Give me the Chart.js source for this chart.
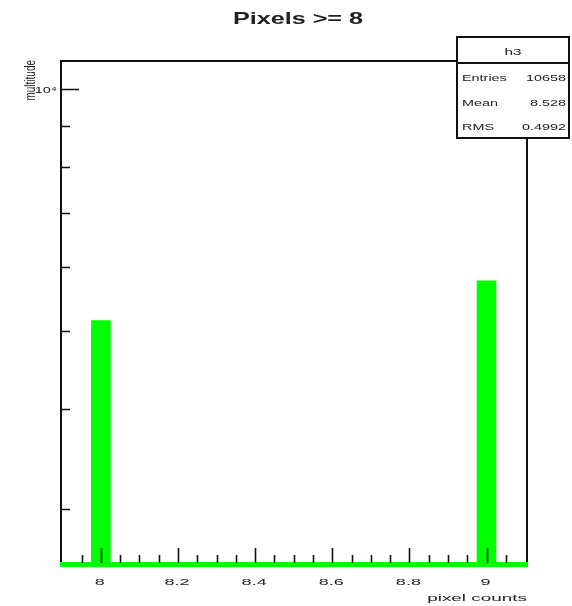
<!DOCTYPE html>
<html><head><meta charset="utf-8">
<script src="https://cdn.jsdelivr.net/npm/chart.js@4/dist/chart.umd.min.js"></script>
<style>html,body{margin:0;padding:0;background:#fff;overflow:hidden}canvas{display:block}</style>
</head><body>
<canvas id="c" width="572" height="606"></canvas>
<script>
// ---- data ----
const binCenters = [8, 9];
const binCounts = [5150, 5770];
const xTickValues = [8, 8.2, 8.4, 8.6, 8.8, 9];
const xTickLabels = ['8', '8.2', '8.4', '8.6', '8.8', '9'];
const xMinorTicks = [7.95, 8.05, 8.1, 8.15, 8.25, 8.3, 8.35, 8.45, 8.5, 8.55, 8.65, 8.7, 8.75, 8.85, 8.9, 8.95, 9.05];
const yMajorTicks = [10000];
const yMajorLabels = ['10\u2074'];
const yMinorTicks = [3000, 4000, 5000, 6000, 7000, 8000, 9000];
const xRange = [7.894, 9.105];
const yRange = [2557, 10859];
const titleText = 'Pixels >= 8';
const xTitleText = 'pixel counts';
const yTitleText = 'multitude';
const statsName = 'h3';
const statsLabels = ['Entries', 'Mean', 'RMS'];
const statsValues = ['10658', '8.528', '0.4992'];

const FONT = '"Liberation Sans", Arial, sans-serif';
const TXT = '#222';

function txt(ctx, s, x, y, font, sx, align) {
  ctx.save();
  ctx.font = font;
  ctx.fillStyle = TXT;
  ctx.textBaseline = 'alphabetic';
  ctx.textAlign = 'left';
  const w = ctx.measureText(s).width * sx;
  const x0 = align === 'center' ? x - w / 2 : (align === 'right' ? x - w : x);
  ctx.translate(x0, y);
  ctx.scale(sx, 1);
  ctx.fillText(s, 0, 0);
  ctx.restore();
}

const rootDecor = {
  id: 'rootDecor',
  afterDatasetsDraw(chart) {
    const ctx = chart.ctx;
    const {left, right, top, bottom} = chart.chartArea;
    const xs = chart.scales.x, ys = chart.scales.y;
    ctx.save();
    // frame
    ctx.strokeStyle = '#111';
    ctx.lineWidth = 2;
    ctx.beginPath();
    ctx.moveTo(left + 1, bottom);
    ctx.lineTo(left + 1, top + 1);
    ctx.lineTo(right, top + 1);
    ctx.lineTo(right, bottom);
    ctx.stroke();
    // histogram baseline (empty bins)
    ctx.strokeStyle = '#00ff00';
    ctx.lineWidth = 5;
    ctx.beginPath();
    ctx.moveTo(left, bottom - 0.5);
    ctx.lineTo(right + 1, bottom - 0.5);
    ctx.stroke();
    // x ticks
    ctx.strokeStyle = '#111';
    ctx.lineWidth = 1.6;
    ctx.beginPath();
    xTickValues.forEach(v => {
      const p = Math.round(xs.getPixelForValue(v)) + 0.5;
      ctx.moveTo(p, bottom - 2); ctx.lineTo(p, bottom - 17);
    });
    xMinorTicks.forEach(v => {
      const p = Math.round(xs.getPixelForValue(v)) + 0.5;
      ctx.moveTo(p, bottom - 2); ctx.lineTo(p, bottom - 10);
    });
    // y ticks
    yMajorTicks.forEach(v => {
      const p = Math.round(ys.getPixelForValue(v)) + 0.5;
      ctx.moveTo(left, p); ctx.lineTo(left + 19, p);
    });
    yMinorTicks.forEach(v => {
      const p = Math.round(ys.getPixelForValue(v)) + 0.5;
      ctx.moveTo(left, p); ctx.lineTo(left + 10, p);
    });
    ctx.stroke();
    ctx.restore();

    // tick labels
    xTickValues.forEach((v, i) => {
      txt(ctx, xTickLabels[i], xs.getPixelForValue(v) - 1, bottom + 19.5, '9px ' + FONT, 2.0, 'center');
    });
    yMajorTicks.forEach((v, i) => {
      txt(ctx, yMajorLabels[i], left - 3, ys.getPixelForValue(v) + 4, '9px ' + FONT, 1.6, 'right');
    });
    // axis titles
    txt(ctx, xTitleText, right, bottom + 36, '9px ' + FONT, 2.1, 'right');
    ctx.save();
    ctx.translate(35, top);
    ctx.rotate(-Math.PI / 2);
    ctx.scale(1, 1.4);
    ctx.font = '10px ' + FONT;
    ctx.fillStyle = TXT;
    ctx.textAlign = 'right';
    ctx.textBaseline = 'alphabetic';
    ctx.fillText(yTitleText, 0, 0);
    ctx.restore();
    // title
    txt(ctx, titleText, 298, 23.5, 'bold 17px ' + FONT, 1.48, 'center');

    // stats box
    const bx = 457, by = 37, bw = 112, bh = 101;
    ctx.save();
    ctx.fillStyle = '#fff';
    ctx.fillRect(bx, by, bw, bh);
    ctx.strokeStyle = '#111';
    ctx.lineWidth = 2;
    ctx.strokeRect(bx, by, bw, bh);
    ctx.beginPath();
    ctx.moveTo(bx, 63); ctx.lineTo(bx + bw, 63);
    ctx.stroke();
    ctx.restore();
    txt(ctx, statsName, bx + bw / 2, 55, '9px ' + FONT, 1.7, 'center');
    const rowY = [81, 106, 130];
    statsLabels.forEach((l, i) => {
      txt(ctx, l, 462, rowY[i], '9px ' + FONT, 1.6, 'left');
      txt(ctx, statsValues[i], 566, rowY[i], '9px ' + FONT, 1.6, 'right');
    });
  }
};

new Chart(document.getElementById('c'), {
  type: 'bar',
  data: {
    datasets: [{
      data: binCenters.map((x, i) => ({x: x, y: binCounts[i]})),
      backgroundColor: '#00ff00',
      borderWidth: 0,
      barThickness: 19
    }]
  },
  options: {
    responsive: false,
    devicePixelRatio: 1,
    animation: false,
    layout: {padding: {left: 60, top: 60, right: 45, bottom: 41}},
    scales: {
      x: {type: 'linear', min: xRange[0], max: xRange[1], offset: false, display: false},
      y: {type: 'logarithmic', min: yRange[0], max: yRange[1], display: false}
    },
    plugins: {legend: {display: false}, tooltip: {enabled: false}, title: {display: false}}
  },
  plugins: [rootDecor]
});
</script>
</body></html>
